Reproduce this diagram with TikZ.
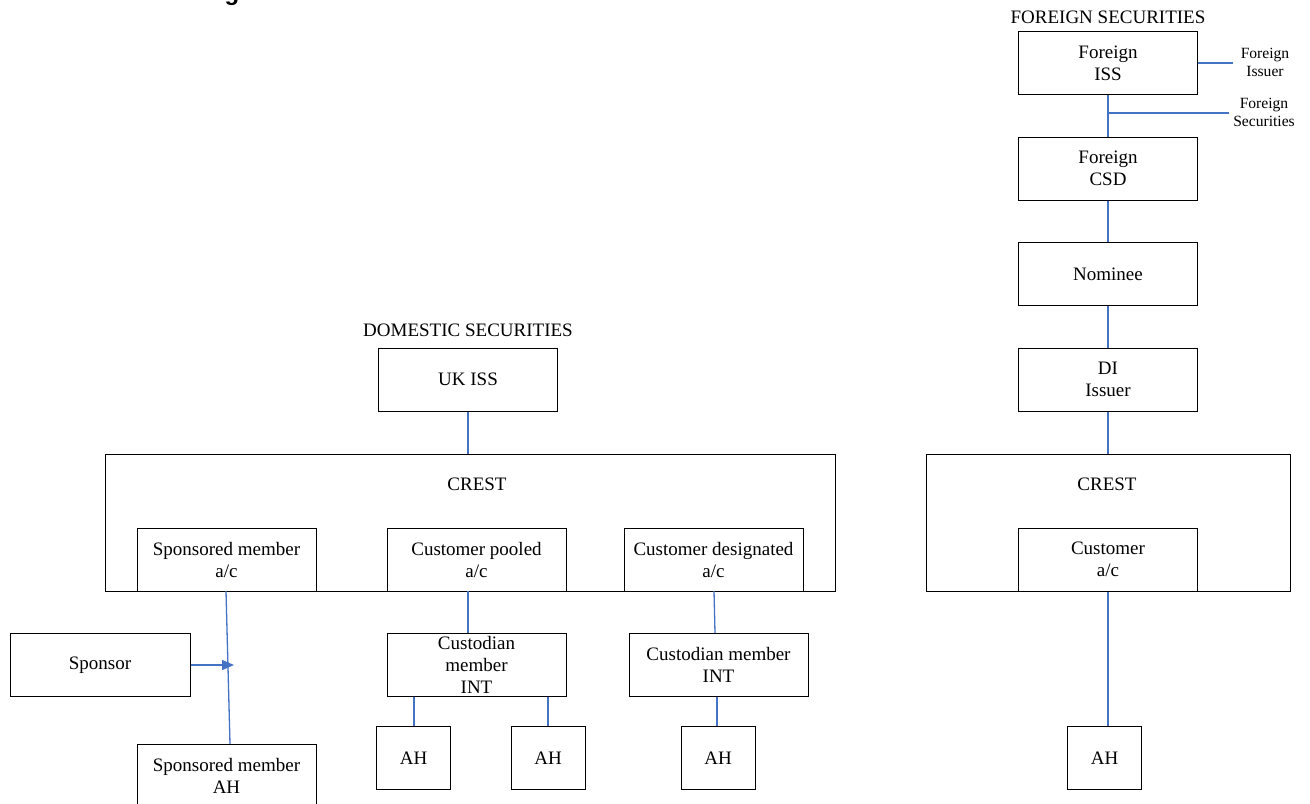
\documentclass[tikz,border=0pt]{standalone}
\usepackage{fontspec}
\setmainfont{Liberation Serif}
\newfontfamily\sansfam{Liberation Sans}
\usetikzlibrary{arrows.meta}
\definecolor{lnblue}{RGB}{68,114,196}
\tikzset{
  box/.style={draw=black, line width=0.5pt, minimum width=89.5pt, minimum height=31.5pt,
    inner sep=1pt, align=center, font=\fontsize{9.5}{11}\selectfont},
  ahbox/.style={box, minimum width=37pt},
  txt/.style={inner sep=0pt, align=center, font=\fontsize{9.5}{11}\selectfont},
  small/.style={inner sep=0pt, align=center, font=\fontsize{7.8}{9}\selectfont},
  conn/.style={draw=lnblue, line width=0.65pt},
}
\begin{document}
\begin{tikzpicture}[x=0.5pt, y=-0.5pt]
\useasboundingbox (0,0) rectangle (1310,803);
\fill[white] (0,0) rectangle (1310,803);
% cut-off title fragment
\node[inner sep=0pt, anchor=base, font=\sansfam\bfseries\fontsize{12}{14}\selectfont] (frag) at (232,0) {g};

% ---------- right column ----------
\node[txt] (ftitle) at (1108,17) {FOREIGN SECURITIES};
\node[box] (fiss) at (1108,63) {Foreign\\ISS};
\node[box] (fcsd) at (1108,168.5) {Foreign\\CSD};
\node[box] (nom) at (1108,274) {Nominee};
\node[box] (dii) at (1108,379.5) {DI\\Issuer};
\node[box, minimum width=182pt, minimum height=68.5pt] (crestR) at (1108,522.5) {};
\node[txt] (crestRt) at (1107,484) {CREST};
\node[box] (custac) at (1108,559.5) {Customer\\a/c};
\node[ahbox] (ahR) at (1104.5,758) {AH};
\node[small] (fissuer) at (1265,62) {Foreign\\Issuer};
\node[small] (fsec) at (1264,112) {Foreign\\Securities};
\coordinate (fsecend) at (1229,113);
\coordinate (fissend) at (1233,63);

\draw[conn] (fiss.east) -- (fissend);
\draw[conn] (fiss.south) -- (fcsd.north);
\draw[conn] (1108,113) -- (fsecend);
\draw[conn] (fcsd.south) -- (nom.north);
\draw[conn] (nom.south) -- (dii.north);
\draw[conn] (dii.south) -- (crestR.north -| dii.south);
\draw[conn] (custac.south) -- (custac.south |- ahR.north);

% ---------- left part ----------
\node[txt] (dtitle) at (468,330) {DOMESTIC SECURITIES};
\node[box] (ukiss) at (468,379.5) {UK ISS};
\node[box, minimum width=365pt, minimum height=68.5pt] (crestL) at (470,522.5) {};
\node[txt] (crestLt) at (477,484) {CREST};
\node[box] (spac) at (226.5,559.5) {Sponsored member\\a/c};
\node[box] (cpac) at (476.5,559.5) {Customer pooled\\a/c};
\node[box] (cdac) at (713.5,559.5) {Customer designated\\a/c};
\node[box, minimum width=90pt] (sponsor) at (100,665) {Sponsor};
\node[box] (cust1) at (476.5,665) {Custodian\\member\\INT};
\node[box] (cust2) at (718.5,665) {Custodian member\\INT};
\node[ahbox] (ah1) at (413.5,758) {AH};
\node[ahbox] (ah2) at (548,758) {AH};
\node[ahbox] (ah3) at (718,758) {AH};
\node[box, text depth=0pt] (smah) at (226.5,775.5) {Sponsored member\\AH};

\coordinate (spbot) at (230,744);
\coordinate (sptop) at (226,591);
\coordinate (arrtip) at (234,665);

\draw[conn] (ukiss.south) -- (ukiss.south |- crestL.north);
\draw[conn] (sptop) -- (spbot);
\draw[conn, -{Triangle[length=6pt, width=5pt]}] (sponsor.east) -- (arrtip);
\draw[conn] (468,591) -- (468,633);
\draw[conn] (714,591) -- (715,633);
\draw[conn] (414,697) -- (414,726);
\draw[conn] (548,697) -- (ah2.north);
\draw[conn] (717,697) -- (717,726);
\end{tikzpicture}
\end{document}
